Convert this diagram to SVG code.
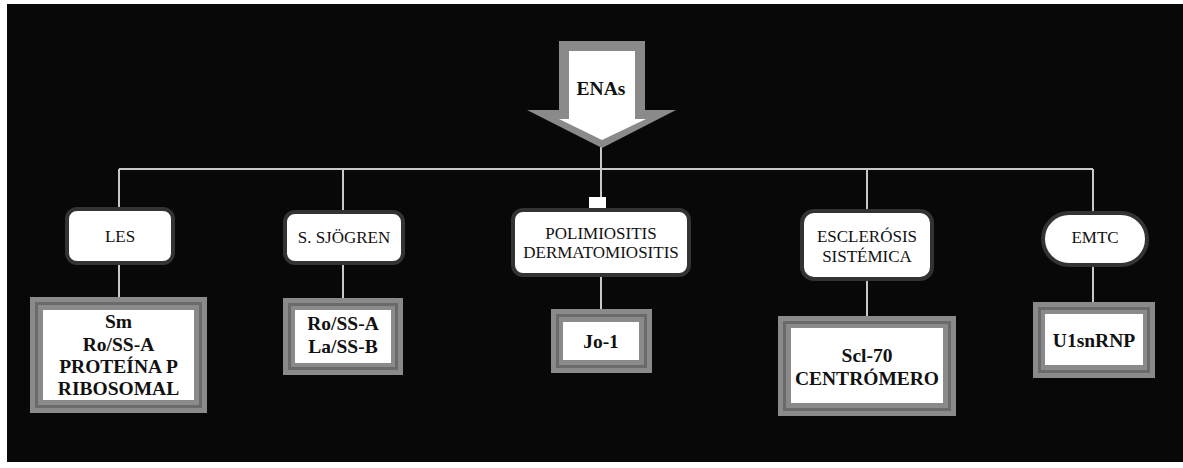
<svg xmlns="http://www.w3.org/2000/svg" width="1183" height="468" viewBox="0 0 1183 468">
<style>
.top{fill:#fff;stroke:#333;stroke-width:4}
.tt{font-family:'Liberation Serif','Times New Roman','DejaVu Serif',serif;font-size:17px;fill:#111;text-anchor:middle}
.bt{font-family:'Liberation Serif','Times New Roman','DejaVu Serif',serif;font-size:19.5px;font-weight:bold;fill:#111;text-anchor:middle}
.o{fill:#8a8a8a}
.m{fill:none;stroke:#6a6a6a;stroke-width:3}
.w{fill:#fff}
.c{stroke:#c8c8c8;stroke-width:2;fill:none}
</style>
<rect x="0" y="0" width="1183" height="468" fill="#fff"/>
<rect x="7" y="4" width="1176" height="458" fill="#080808"/>
<g id="connectors">
<path class="c" d="M601 146 V169 M119 169 H1093 M119 169 V209 M343 169 V212 M601 169 V210 M867 169 V211 M1093 169 V213"/>
<path class="c" d="M119 263 V297 M343 263 V298 M601 275 V309 M867 279 V316 M1093 265 V302"/>
<rect x="589" y="197" width="17" height="11" fill="#fff"/>
</g>
<g id="enas">
<polygon points="559,41 645,41 645,110 676,110 602,148 527,110 559,110" fill="#8a8a8a"/>
<polygon points="569,51 635,51 635,119 646,119 602,140 559,119 569,119" fill="#fff"/>
<text class="bt" x="601" y="95" font-size="19">ENAs</text>
</g>
<g id="les">
<rect class="top" x="67" y="209" width="106" height="54" rx="10"/>
<text class="tt" x="120" y="242">LES</text>
</g>
<g id="sjogren">
<rect class="top" x="285" y="212" width="118" height="51" rx="10"/>
<text class="tt" x="344" y="243">S. SJÖGREN</text>
</g>
<g id="polimiositis">
<rect class="top" x="513" y="210" width="176" height="65" rx="10"/>
<text class="tt" x="601" y="239">POLIMIOSITIS</text>
<text class="tt" x="601" y="258">DERMATOMIOSITIS</text>
</g>
<g id="esclerosis">
<rect class="top" x="802" y="211" width="130" height="68" rx="12"/>
<text class="tt" x="867" y="242">ESCLERÓSIS</text>
<text class="tt" x="867" y="262">SISTÉMICA</text>
</g>
<g id="emtc">
<rect class="top" x="1043" y="213" width="104" height="52" rx="26"/>
<text class="tt" x="1095" y="243">EMTC</text>
</g>
<g id="les-ab">
<rect class="o" x="30" y="297" width="177" height="116"/>
<rect class="m" x="36.5" y="303.5" width="164" height="103"/>
<rect class="w" x="43" y="310" width="151" height="90"/>
<text class="bt" x="118.5" y="328">Sm</text>
<text class="bt" x="118.5" y="351">Ro/SS-A</text>
<text class="bt" x="118.5" y="373">PROTEÍNA P</text>
<text class="bt" x="118.5" y="395">RIBOSOMAL</text>
</g>
<g id="sjogren-ab">
<rect class="o" x="283" y="298" width="120" height="77"/>
<rect class="m" x="289.5" y="304.5" width="107" height="64"/>
<rect class="w" x="295" y="310" width="96" height="53"/>
<text class="bt" x="343" y="330">Ro/SS-A</text>
<text class="bt" x="343" y="353">La/SS-B</text>
</g>
<g id="polimiositis-ab">
<rect class="o" x="551" y="309" width="101" height="64"/>
<rect class="m" x="557.5" y="315.5" width="88" height="51"/>
<rect class="w" x="563" y="322" width="76" height="38"/>
<text class="bt" x="601" y="348" font-size="18.5">Jo-1</text>
</g>
<g id="esclerosis-ab">
<rect class="o" x="778" y="316" width="178" height="100"/>
<rect class="m" x="784.5" y="322.5" width="165" height="87"/>
<rect class="w" x="791" y="328" width="152" height="75"/>
<text class="bt" x="867" y="362">Scl-70</text>
<text class="bt" x="867" y="385">CENTRÓMERO</text>
</g>
<g id="emtc-ab">
<rect class="o" x="1033" y="302" width="122" height="76"/>
<rect class="m" x="1039.5" y="308.5" width="109" height="63"/>
<rect class="w" x="1045" y="314" width="98" height="51"/>
<text class="bt" x="1094" y="347">U1snRNP</text>
</g>
</svg>
